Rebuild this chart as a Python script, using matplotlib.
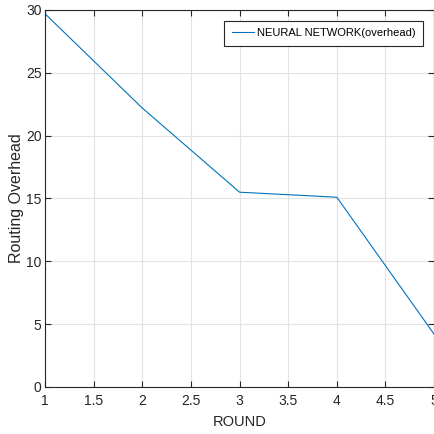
import numpy as np
import matplotlib
matplotlib.use("Agg")
import matplotlib.pyplot as plt

rounds = [1, 2, 3, 4, 5]
overhead = [29.7, 22.2, 15.5, 15.1, 4.2]
series_label = "NEURAL NETWORK(overhead)"

plt.rcParams['font.family'] = ['Liberation Sans', 'DejaVu Sans']

fig = plt.figure(figsize=(4.35, 4.34), dpi=100)
ax = fig.add_axes([0.1034, 0.1083, 0.8946, 0.8687])

ax.plot(rounds, overhead, color=(0, 0.447, 0.741), lw=0.8, label=series_label)

ax.set_xlim(1, 5)
ax.set_ylim(0, 30)
ax.set_xticks(np.arange(1, 5.01, 0.5))
ax.set_xticklabels(["1", "1.5", "2", "2.5", "3", "3.5", "4", "4.5", "5"])
ax.set_yticks(np.arange(0, 31, 5))
ax.grid(True, color="#e3e3e3", lw=0.8)
ax.set_axisbelow(True)
ax.tick_params(direction="in", top=True, right=True, length=4, width=0.8,
               labelsize=10, colors="#262626")
ax.tick_params(axis="x", pad=5)
ax.tick_params(axis="y", pad=2.5)
for s in ax.spines.values():
    s.set_color("#262626")
    s.set_linewidth(0.8)

ax.set_xlabel("ROUND", fontsize=10.5, color="#262626", labelpad=5)
ax.set_ylabel("Routing Overhead", fontsize=11.5, color="#262626", labelpad=1)

leg = ax.legend(loc="upper right", fontsize=8, fancybox=False, framealpha=1,
                edgecolor="#262626", borderaxespad=1.0, borderpad=0.65,
                handlelength=2.0, handletextpad=0.3)
leg.get_frame().set_linewidth(0.8)

fig.savefig("out.png", dpi=100)
